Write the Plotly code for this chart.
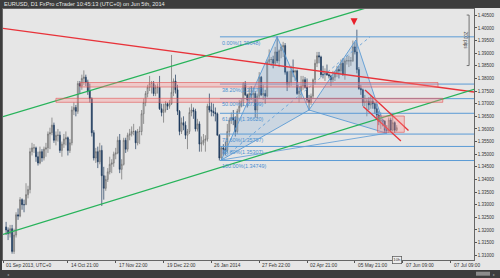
import plotly.graph_objects as go
import pandas as pd

# ---------------- data ----------------
bar_dates = [d.strftime("%Y-%m-%d") for d in pd.bdate_range("2013-09-02", "2014-06-05")
             if d.strftime("%m-%d") not in ("12-25", "01-01")]

opens = [1.3212,1.3200,1.3185,1.3205,1.3115,1.3180,1.3260,1.3255,1.3320,1.3300,
         1.3300,1.3340,1.3360,1.3510,1.3525,1.3525,1.3490,1.3465,1.3510,1.3485,
         1.3520,1.3525,1.3580,1.3585,1.3615,1.3555,1.3575,1.3575,1.3515,1.3540,
         1.3560,1.3565,1.3515,1.3545,1.3675,1.3685,1.3670,1.3780,1.3770,1.3800,
         1.3805,1.3785,1.3750,1.3720,1.3585,1.3485,1.3510,1.3470,1.3515,1.3415,
         1.3365,1.3400,1.3430,1.3460,1.3465,1.3500,1.3505,1.3555,1.3440,1.3460,
         1.3555,1.3520,1.3575,1.3580,1.3590,1.3590,1.3545,1.3590,1.3590,1.3660,
         1.3705,1.3740,1.3765,1.3780,1.3780,1.3740,1.3765,1.3765,1.3680,1.3665,
         1.3675,1.3700,1.3690,1.3700,1.3745,1.3790,1.3755,1.3670,1.3590,1.3625,
         1.3615,1.3575,1.3590,1.3665,1.3675,1.3670,1.3600,1.3620,1.3540,1.3545,
         1.3555,1.3560,1.3690,1.3675,1.3670,1.3665,1.3660,1.3575,1.3485,1.3525,
         1.3520,1.3515,1.3590,1.3635,1.3645,1.3635,1.3590,1.3670,1.3690,1.3710,
         1.3780,1.3735,1.3715,1.3740,1.3735,1.3740,1.3675,1.3730,1.3805,1.3735,
         1.3740,1.3730,1.3865,1.3875,1.3875,1.3860,1.3905,1.3870,1.3910,1.3925,
         1.3930,1.3825,1.3775,1.3785,1.3830,1.3825,1.3830,1.3740,1.3750,1.3770,
         1.3795,1.3765,1.3715,1.3705,1.3730,1.3795,1.3860,1.3890,1.3885,1.3815,
         1.3815,1.3820,1.3815,1.3810,1.3795,1.3805,1.3820,1.3835,1.3830,1.3860,
         1.3815,1.3870,1.3870,1.3870,1.3870,1.3925,1.3905,1.3835,1.3760,1.3755,
         1.3705,1.3710,1.3710,1.3695,1.3710,1.3700,1.3680,1.3655,1.3630,1.3635,
         1.3630,1.3595,1.3595,1.3635,1.3595,1.3625,1.3595]
highs = [1.3232,1.3210,1.3220,1.3220,1.3205,1.3270,1.3285,1.3330,1.3325,1.3320,
         1.3385,1.3375,1.3525,1.3545,1.3540,1.3530,1.3510,1.3530,1.3520,1.3530,
         1.3545,1.3590,1.3605,1.3645,1.3625,1.3590,1.3600,1.3590,1.3550,1.3580,
         1.3590,1.3570,1.3560,1.3690,1.3705,1.3695,1.3790,1.3790,1.3815,1.3832,
         1.3815,1.3795,1.3780,1.3725,1.3595,1.3525,1.3530,1.3545,1.3535,1.3450,
         1.3415,1.3445,1.3490,1.3480,1.3510,1.3525,1.3570,1.3580,1.3480,1.3565,
         1.3565,1.3585,1.3600,1.3610,1.3620,1.3595,1.3600,1.3610,1.3675,1.3720,
         1.3750,1.3775,1.3810,1.3790,1.3790,1.3775,1.3780,1.3810,1.3700,1.3700,
         1.3710,1.3705,1.3715,1.3893,1.3800,1.3815,1.3775,1.3675,1.3645,1.3650,
         1.3630,1.3600,1.3685,1.3700,1.3685,1.3680,1.3640,1.3630,1.3570,1.3580,
         1.3575,1.3700,1.3740,1.3705,1.3700,1.3685,1.3665,1.3580,1.3530,1.3540,
         1.3550,1.3620,1.3645,1.3665,1.3675,1.3650,1.3680,1.3715,1.3720,1.3785,
         1.3790,1.3740,1.3765,1.3770,1.3765,1.3750,1.3740,1.3825,1.3810,1.3775,
         1.3755,1.3875,1.3915,1.3885,1.3890,1.3925,1.3967,1.3915,1.3935,1.3945,
         1.3940,1.3830,1.3830,1.3850,1.3875,1.3835,1.3835,1.3770,1.3810,1.3810,
         1.3805,1.3800,1.3735,1.3740,1.3800,1.3875,1.3905,1.3905,1.3890,1.3850,
         1.3840,1.3855,1.3820,1.3815,1.3830,1.3830,1.3850,1.3850,1.3875,1.3880,
         1.3880,1.3890,1.3890,1.3885,1.3950,1.3945,1.3993,1.3845,1.3775,1.3760,
         1.3735,1.3720,1.3725,1.3730,1.3725,1.3705,1.3700,1.3670,1.3665,1.3640,
         1.3635,1.3615,1.3645,1.3645,1.3650,1.3630,1.3615]
lows = [1.3180,1.3160,1.3170,1.3106,1.3105,1.3170,1.3240,1.3250,1.3280,1.3270,
        1.3300,1.3325,1.3345,1.3495,1.3505,1.3470,1.3455,1.3460,1.3470,1.3475,
        1.3490,1.3505,1.3520,1.3575,1.3545,1.3535,1.3550,1.3505,1.3490,1.3525,
        1.3535,1.3495,1.3505,1.3535,1.3655,1.3650,1.3660,1.3740,1.3755,1.3775,
        1.3770,1.3735,1.3705,1.3570,1.3475,1.3465,1.3445,1.3460,1.3295,1.3320,
        1.3355,1.3390,1.3420,1.3425,1.3450,1.3480,1.3500,1.3425,1.3400,1.3455,
        1.3505,1.3510,1.3555,1.3570,1.3575,1.3520,1.3535,1.3540,1.3575,1.3620,
        1.3690,1.3725,1.3750,1.3740,1.3730,1.3730,1.3740,1.3675,1.3650,1.3625,
        1.3665,1.3675,1.3680,1.3695,1.3730,1.3740,1.3655,1.3575,1.3580,1.3595,
        1.3560,1.3520,1.3580,1.3650,1.3640,1.3590,1.3590,1.3510,1.3510,1.3535,
        1.3510,1.3550,1.3665,1.3650,1.3650,1.3630,1.3575,1.3475,1.3477,1.3495,
        1.3495,1.3505,1.3570,1.3620,1.3615,1.3570,1.3580,1.3660,1.3685,1.3690,
        1.3730,1.3685,1.3700,1.3715,1.3705,1.3645,1.3640,1.3720,1.3730,1.3715,
        1.3700,1.3725,1.3855,1.3850,1.3840,1.3850,1.3860,1.3845,1.3880,1.3885,
        1.3815,1.3750,1.3765,1.3770,1.3805,1.3790,1.3735,1.3705,1.3720,1.3755,
        1.3760,1.3705,1.3672,1.3695,1.3720,1.3775,1.3845,1.3860,1.3805,1.3800,
        1.3790,1.3810,1.3800,1.3770,1.3785,1.3790,1.3805,1.3800,1.3815,1.3810,
        1.3795,1.3855,1.3845,1.3850,1.3865,1.3895,1.3820,1.3755,1.3735,1.3690,
        1.3690,1.3650,1.3675,1.3680,1.3680,1.3660,1.3640,1.3615,1.3600,1.3610,
        1.3585,1.3585,1.3585,1.3590,1.3590,1.3585,1.3590]
closes = [1.3200,1.3185,1.3205,1.3115,1.3180,1.3260,1.3255,1.3320,1.3300,1.3300,
          1.3340,1.3360,1.3510,1.3525,1.3525,1.3490,1.3465,1.3510,1.3485,1.3520,
          1.3525,1.3580,1.3585,1.3615,1.3555,1.3575,1.3575,1.3515,1.3540,1.3560,
          1.3565,1.3515,1.3545,1.3675,1.3685,1.3670,1.3780,1.3770,1.3800,1.3805,
          1.3785,1.3750,1.3720,1.3585,1.3485,1.3510,1.3470,1.3515,1.3415,1.3365,
          1.3400,1.3430,1.3460,1.3465,1.3500,1.3505,1.3555,1.3440,1.3460,1.3555,
          1.3520,1.3575,1.3580,1.3590,1.3590,1.3545,1.3590,1.3590,1.3660,1.3705,
          1.3740,1.3765,1.3780,1.3780,1.3740,1.3765,1.3765,1.3680,1.3665,1.3675,
          1.3700,1.3690,1.3700,1.3745,1.3790,1.3755,1.3670,1.3590,1.3625,1.3615,
          1.3575,1.3590,1.3665,1.3675,1.3670,1.3600,1.3620,1.3540,1.3545,1.3555,
          1.3560,1.3690,1.3675,1.3670,1.3665,1.3660,1.3575,1.3485,1.3525,1.3520,
          1.3515,1.3590,1.3635,1.3645,1.3635,1.3590,1.3670,1.3690,1.3710,1.3780,
          1.3735,1.3715,1.3740,1.3735,1.3740,1.3675,1.3730,1.3805,1.3735,1.3740,
          1.3730,1.3865,1.3875,1.3875,1.3860,1.3905,1.3870,1.3910,1.3925,1.3930,
          1.3825,1.3775,1.3785,1.3830,1.3825,1.3830,1.3740,1.3750,1.3770,1.3795,
          1.3765,1.3715,1.3705,1.3730,1.3795,1.3860,1.3890,1.3885,1.3815,1.3815,
          1.3820,1.3815,1.3810,1.3795,1.3805,1.3820,1.3835,1.3830,1.3860,1.3815,
          1.3870,1.3870,1.3870,1.3870,1.3925,1.3905,1.3835,1.3760,1.3755,1.3705,
          1.3710,1.3710,1.3695,1.3710,1.3700,1.3680,1.3655,1.3630,1.3635,1.3630,
          1.3595,1.3595,1.3635,1.3595,1.3625,1.3595,1.3605]

# x-axis labels (bar-index positions)
tick_pos = [-1.5, 31, 55, 79, 103, 127, 151, 175, 199, 223]
tick_text = ["01 Sep 2013, UTC+0", "14 Oct 21:00", "17 Nov 22:00", "19 Dec 22:00",
             "26 Jan 2014", "27 Feb 22:00", "02 Apr 21:00", "05 May 21:00",
             "07 Jun 09:00", "07 Jul 09:00"]
price_ticks = [1.310 + 0.005 * i for i in range(20)]

# fibonacci retracement
fib_pct = ["0.00%", "38.20%", "50.00%", "61.80%", "78.60%", "88.60%", "100.00%"]
fib_val = [1.39648, 1.37777, 1.37199, 1.36620, 1.35797, 1.35307, 1.34749]
fib_start = 107.3

# trend lines (bar index, price)
red_trend = ([-1.56, 234.8], [1.39985, 1.37463])
green_up = ([-1.56, 234.8], [1.36485, 1.42072])
green_low = ([-1.56, 234.8], [1.31827, 1.37570])
red_ch1 = ([180.1, 201.9], [1.37542, 1.35938])
red_ch2 = ([179.2, 198.1], [1.36889, 1.35522])

# harmonic points X A B C D
hx = [108, 136, 152, 175.5, 191]
hy = [1.3477, 1.39648, 1.3675, 1.3952, 1.3583]
dash_end = (182.6, 1.39648)

# zones (x0, x1, y0, y1)
zones = [(37.1, 216.7, 1.37661, 1.37839),
         (25.0, 219.1, 1.37055, 1.37213),
         (186.4, 199.8, 1.35867, 1.36512)]

arrow_pt = (174.6, 1.4011)
ruler = (232.3, 1.4051, 1.3851)

# ---------------- figure ----------------
W, H = 500, 278
L, R, T, B = 3, 26, 9, 18
PW, PH = W - L - R, H - T - B
def px(xp):
    return (xp - L) / PW
def py(yp):
    return (H - B - yp) / PH

BLUE = "#5b9bd5"
fig = go.Figure()

# harmonic triangles
X, A, Bp, C, D = list(zip(hx, hy))
for tri in ([X, A, Bp, X], [Bp, C, D, Bp]):
    fig.add_trace(go.Scatter(x=[p[0] for p in tri], y=[p[1] for p in tri], mode="lines",
                             fill="toself", fillcolor="rgba(110,160,210,0.22)",
                             line=dict(color=BLUE, width=0.9), hoverinfo="skip"))
fig.add_trace(go.Scatter(x=[X[0], D[0]], y=[X[1], D[1]], mode="lines",
                         line=dict(color=BLUE, width=0.8), hoverinfo="skip"))
fig.add_trace(go.Scatter(x=[X[0], dash_end[0]], y=[X[1], dash_end[1]], mode="lines",
                         line=dict(color=BLUE, width=0.8, dash="dot"), hoverinfo="skip"))

# fib lines
for v in fib_val:
    fig.add_trace(go.Scatter(x=[fib_start, 234.8], y=[v, v], mode="lines",
                             line=dict(color=BLUE, width=1), hoverinfo="skip"))

# candles
fig.add_trace(go.Candlestick(
    x=list(range(len(bar_dates))), open=opens, high=highs, low=lows, close=closes,
    text=bar_dates,
    increasing=dict(line=dict(color="#6e6e6e", width=0.7), fillcolor="#cfcfcf"),
    decreasing=dict(line=dict(color="#1d3a5c", width=0.7), fillcolor="#1d3a5c"),
    whiskerwidth=0))

# trend lines
for (xs, ys), col in ((red_trend, "#e8333a"), (green_up, "#27b35a"), (green_low, "#27b35a"),
                      (red_ch1, "#e8333a"), (red_ch2, "#e8333a")):
    fig.add_trace(go.Scatter(x=xs, y=ys, mode="lines", line=dict(color=col, width=1.3),
                             hoverinfo="skip"))

# red arrow
fig.add_trace(go.Scatter(x=[arrow_pt[0]], y=[arrow_pt[1]], mode="markers",
                         marker=dict(symbol="arrow-down", size=7, color="#e8202a",
                                     line=dict(width=0)), hoverinfo="skip"))

# 200 pips ruler
rx, rtop, rbot = ruler
fig.add_trace(go.Scatter(x=[rx - 1.2, rx, rx, rx - 1.2], y=[rtop, rtop, rbot, rbot],
                         mode="lines", line=dict(color="#555555", width=0.8), hoverinfo="skip"))

shapes = []
for x0, x1, y0, y1 in zones:
    shapes.append(dict(type="rect", xref="x", yref="y", x0=x0, x1=x1, y0=y0, y1=y1,
                       fillcolor="rgba(255,140,140,0.32)",
                       line=dict(color="rgba(225,80,80,0.75)", width=0.8), layer="above"))
# chrome: header, left strip, bottom bar, scrollbar
shapes += [
    dict(type="rect", xref="paper", yref="paper", x0=px(0), x1=px(W), y0=py(8), y1=py(0),
         fillcolor="#3d3d3d", line=dict(width=0), layer="above"),
    dict(type="rect", xref="paper", yref="paper", x0=px(0), x1=px(2), y0=py(H), y1=py(8),
         fillcolor="#3d3d3d", line=dict(width=0), layer="above"),
    dict(type="rect", xref="paper", yref="paper", x0=px(0), x1=px(W), y0=py(H), y1=py(270),
         fillcolor="#3d3d3d", line=dict(width=0), layer="above"),
    dict(type="rect", xref="paper", yref="paper", x0=px(476), x1=px(490), y0=py(275.7), y1=py(271.7),
         fillcolor="#8c8c8c", line=dict(width=0), layer="above"),
]

ann = []
ann.append(dict(text="EURUSD, D1 FxPro cTrader 10:45:13 (UTC+0) on Jun 5th, 2014",
                xref="paper", yref="paper", x=px(2), y=py(4.2), xanchor="left", yanchor="middle",
                showarrow=False, font=dict(family="Liberation Sans", size=5.6, color="#e6e6e6")))
for tp, tt in zip(tick_pos, tick_text):
    ann.append(dict(text=tt, xref="x", yref="paper", x=tp, y=py(265.0), xanchor="left",
                    yanchor="middle", xshift=1, showarrow=False,
                    font=dict(family="Liberation Sans", size=4.8, color="#333333")))
for p, v in zip(fib_pct, fib_val):
    ann.append(dict(text=f"{p}({v:.5f})", xref="x", yref="y", x=fib_start, y=v,
                    xanchor="left", yanchor="top", yshift=-0.8, showarrow=False,
                    font=dict(family="Liberation Sans", size=5.4, color="#4a8fd0")))
ann.append(dict(text="200 pips", xref="x", yref="y", x=rx - 1.6, y=(rtop + rbot) / 2,
                textangle=90, showarrow=False, xanchor="center", yanchor="middle",
                font=dict(family="Liberation Sans", size=4.5, color="#444444")))
ann.append(dict(text="10h", xref="x", yref="paper", x=196.2, y=py(260), showarrow=False,
                xanchor="center", yanchor="middle", bgcolor="#eeeeee", bordercolor="#555555",
                borderwidth=0.7, borderpad=0.6,
                font=dict(family="Liberation Sans", size=4.2, color="#333333")))
ann.append(dict(text="◂", xref="paper", yref="paper", x=px(5), y=py(274.5), showarrow=False,
                yanchor="middle", font=dict(family="DejaVu Sans", size=4, color="#9a9a9a")))
ann.append(dict(text="▸", xref="paper", yref="paper", x=px(497), y=py(274.5), showarrow=False,
                yanchor="middle", font=dict(family="DejaVu Sans", size=4, color="#9a9a9a")))

fig.update_layout(
    width=W, height=H, margin=dict(l=L, r=R, t=T, b=B, pad=0),
    paper_bgcolor="#e6e6e6", plot_bgcolor="#e6e6e6",
    showlegend=False, shapes=shapes, annotations=ann,
    xaxis=dict(range=[-1.556, 234.77], tickmode="array", tickvals=tick_pos,
               showticklabels=False, ticks="outside", ticklen=2, tickcolor="#555555",
               showgrid=False, zeroline=False, showline=True, linecolor="#666666",
               linewidth=0.8, mirror=True, rangeslider=dict(visible=False), fixedrange=True),
    yaxis=dict(range=[1.3081, 1.4075], side="right", tickmode="array", tickvals=price_ticks,
               ticktext=[f"{v:.5f}" for v in price_ticks], ticks="outside", ticklen=2,
               tickcolor="#555555", showgrid=False, zeroline=False, showline=True,
               linecolor="#666666", linewidth=0.8, mirror=True,
               tickfont=dict(family="Liberation Sans", size=4.5, color="#333333")),
)

fig.write_html("out.html")
